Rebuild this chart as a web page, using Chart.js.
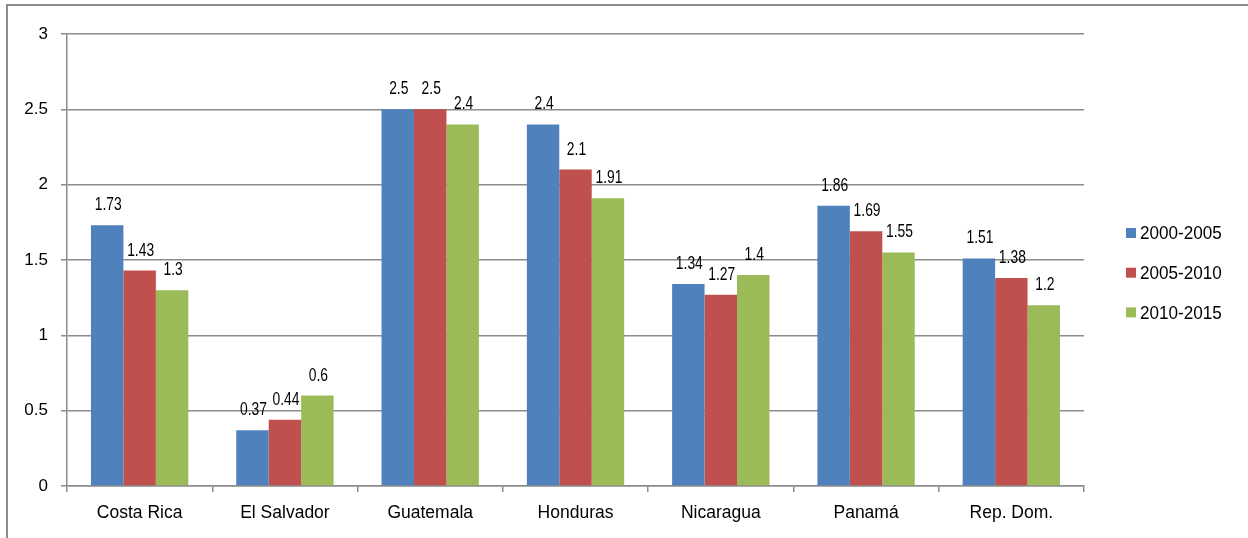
<!DOCTYPE html>
<html>
<head>
<meta charset="utf-8">
<script src="https://cdn.jsdelivr.net/npm/chart.js@4.4.1/dist/chart.umd.min.js"></script>
<style>
  html, body { margin: 0; padding: 0; background: #fff; }
  #wrap { width: 1248px; height: 538px; }
</style>
</head>
<body>
<div id="wrap"><canvas id="myChart" width="1248" height="538"></canvas></div>
<script>
// data
const countries = ["Costa Rica", "El Salvador", "Guatemala", "Honduras", "Nicaragua", "Panamá", "Rep. Dom."];
const periods = ["2000-2005", "2005-2010", "2010-2015"];
const values2000 = [1.73, 0.37, 2.5, 2.4, 1.34, 1.86, 1.51];
const values2005 = [1.43, 0.44, 2.5, 2.1, 1.27, 1.69, 1.38];
const values2010 = [1.3, 0.6, 2.4, 1.91, 1.4, 1.55, 1.2];
const yTicks = [0, 0.5, 1, 1.5, 2, 2.5, 3];
const colors = ["#4F81BD", "#C0504D", "#9BBB59"];

const FONT = "'Liberation Sans', Arial, sans-serif";

/* condensed text, the original uses a narrow face */
function narrowText(c, txt, x, y, sx) {
  c.save();
  c.translate(x, y);
  c.scale(sx, 1);
  c.fillText(txt, 0, 0);
  c.restore();
}

/* ---------- background + outer frame ---------- */
const framePlugin = {
  id: "frame",
  beforeDraw(chart) {
    const c = chart.ctx;
    c.save();
    c.fillStyle = "#ffffff";
    c.fillRect(0, 0, chart.width, chart.height);
    c.strokeStyle = "#8c8c8c";
    c.lineWidth = 2;
    c.beginPath();
    c.moveTo(7, chart.height);
    c.lineTo(7, 5);
    c.lineTo(chart.width, 5);
    c.stroke();
    c.restore();
  }
};

/* ---------- value labels above bars ---------- */
const valueLabels = {
  id: "valueLabels",
  afterDatasetsDraw(chart) {
    const c = chart.ctx;
    c.save();
    c.font = "18px " + FONT;
    c.fillStyle = "#000";
    c.textAlign = "center";
    c.textBaseline = "middle";
    chart.data.datasets.forEach((ds, i) => {
      chart.getDatasetMeta(i).data.forEach((bar, j) => {
        narrowText(c, String(ds.data[j]), bar.x + 1, bar.y - 20, 0.77);
      });
    });
    c.restore();
  }
};

/* ---------- legend on the right ---------- */
const sideLegend = {
  id: "sideLegend",
  afterDraw(chart) {
    const c = chart.ctx;
    c.save();
    c.font = "19px " + FONT;
    c.textBaseline = "middle";
    c.textAlign = "left";
    chart.data.datasets.forEach((ds, i) => {
      const y = 233 + i * 39.7;
      c.fillStyle = ds.backgroundColor;
      c.fillRect(1126, y - 5, 10, 10);
      c.fillStyle = "#000";
      narrowText(c, ds.label, 1140, y + 1, 0.9);
    });
    c.restore();
  }
};

const ctx = document.getElementById("myChart").getContext("2d");
const seriesData = [values2000, values2005, values2010];

new Chart(ctx, {
  type: "bar",
  data: {
    labels: countries,
    datasets: periods.map((p, i) => ({
      label: p,
      data: seriesData[i],
      backgroundColor: colors[i],
      borderWidth: 0,
      categoryPercentage: 0.67,
      barPercentage: 1.0
    }))
  },
  options: {
    responsive: false,
    animation: false,
    devicePixelRatio: 1,
    layout: { padding: { left: 0, right: 164, top: 34, bottom: 0 } },
    plugins: {
      legend: { display: false },
      tooltip: { enabled: false }
    },
    scales: {
      x: {
        afterFit: (s) => { s.height = 52; },
        grid: {
          offset: true,
          drawOnChartArea: false,
          drawTicks: true,
          tickLength: 6,
          color: "#8c8c8c",
          lineWidth: 1.5
        },
        border: { color: "#8c8c8c", width: 1.5 },
        ticks: {
          color: "#000",
          font: { family: FONT, size: 17.5 },
          padding: 11,
          maxRotation: 0
        }
      },
      y: {
        min: 0,
        max: 3,
        afterFit: (s) => { s.width = 67; },
        afterBuildTicks: (s) => { s.ticks = yTicks.map(v => ({ value: v })); },
        grid: {
          color: "#8c8c8c",
          lineWidth: 1.5,
          tickLength: 6
        },
        border: { color: "#8c8c8c", width: 1.5 },
        ticks: {
          color: "#000",
          font: { family: FONT, size: 17 },
          padding: 13,
          callback: (v) => String(v)
        }
      }
    }
  },
  plugins: [framePlugin, valueLabels, sideLegend]
});
</script>
</body>
</html>
